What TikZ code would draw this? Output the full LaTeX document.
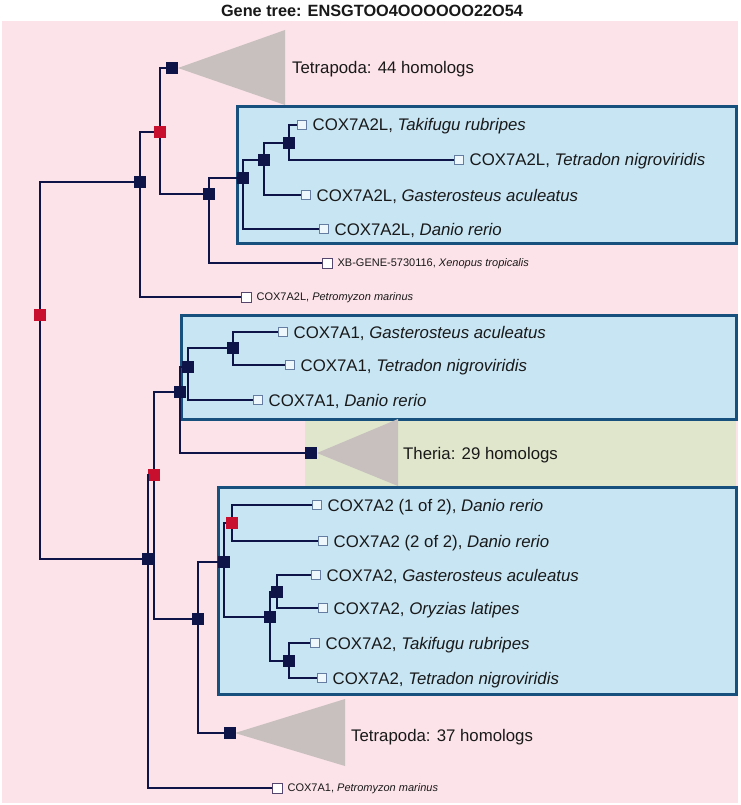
\documentclass[tikz,border=0pt]{standalone}
\usepackage{fontspec}
\setmainfont{Liberation Sans}
\definecolor{pinkbg}{RGB}{252,227,233}
\definecolor{bluebox}{RGB}{200,229,244}
\definecolor{boxedge}{RGB}{24,80,125}
\definecolor{greenbg}{RGB}{224,230,204}
\definecolor{trigray}{RGB}{199,192,190}
\definecolor{navy}{RGB}{14,20,72}
\definecolor{redn}{RGB}{200,16,46}
\definecolor{leafedge}{RGB}{100,125,160}
\definecolor{sleafedge}{RGB}{85,70,110}
\definecolor{txt}{RGB}{25,25,25}
\tikzset{
  edge/.style={draw=navy,line width=2.6pt},
  sedge/.style={draw=navy,line width=2.2pt},
  dn/.style={rectangle,fill=navy,minimum size=11.5pt,inner sep=0pt},
  rn/.style={rectangle,fill=redn,minimum size=11.5pt,inner sep=0pt},
  leaf/.style={rectangle,draw=leafedge,fill=white!70!bluebox,line width=0.9pt,minimum size=9pt,inner sep=0pt},
  sleaf/.style={rectangle,draw=sleafedge,fill=white,line width=0.9pt,minimum size=10pt,inner sep=0pt},
  lab/.style={anchor=west,inner sep=0pt,text=txt,font=\fontsize{16.8}{18}\selectfont,text height=12pt,text depth=0pt},
  slab/.style={anchor=west,inner sep=0pt,text=txt,font=\fontsize{11}{13}\selectfont,text height=7.9pt,text depth=0pt},
  bbox/.style={fill=bluebox,draw=boxedge,line width=3pt},
  tri/.style={fill=trigray},
}
\begin{document}
\begin{tikzpicture}[x=1pt,y=-1pt]
\useasboundingbox[fill=white] (0,0) rectangle (740,805);
\node[font=\bfseries\fontsize{16.3}{18}\selectfont,text=txt,inner sep=0pt] (title) at (372,11) {Gene tree: ENSGTOO4OOOOOO22O54};
\fill[pinkbg] (2,21) rectangle (738,803);
\fill[greenbg] (305,419) rectangle (736,487);
\draw[bbox] (237,107) rectangle (736,243);
\draw[bbox] (181,315) rectangle (736,419);
\draw[bbox] (218,487) rectangle (736,694);
% triangles
\fill[tri] (178,68) -- (285,30) -- (285,105) -- cycle;
\fill[tri] (317,453) -- (398,419) -- (398,486) -- cycle;
\fill[tri] (235,733) -- (345,699) -- (345,766) -- cycle;
% internal nodes
\node[rn] (root) at (40,315) {};
\node[dn] (A) at (140,182) {};
\node[rn] (B) at (160,132) {};
\node[dn] (T44) at (172,68) {};
\node[dn] (C) at (209,194) {};
\node[dn] (D) at (243,178) {};
\node[dn] (E) at (264,160) {};
\node[dn] (F) at (289,143) {};
\node[dn] (G) at (148,559) {};
\node[rn] (H) at (154,475) {};
\node[dn] (I) at (180,392) {};
\node[dn] (K) at (188,367) {};
\node[dn] (L) at (233,348) {};
\node[dn] (Th) at (311,453) {};
\node[dn] (J) at (198,619) {};
\node[dn] (M) at (224,562) {};
\node[rn] (N) at (232,523) {};
\node[dn] (O) at (270,617) {};
\node[dn] (P) at (277,592) {};
\node[dn] (Q) at (289,661) {};
\node[dn] (T37) at (230,733) {};
% leaves
\node[leaf] (l1) at (302,125) {};
\node[leaf] (l2) at (459,160) {};
\node[leaf] (l3) at (306,195) {};
\node[leaf] (l4) at (324,229) {};
\node[sleaf] (l5) at (327,263) {};
\node[sleaf] (l6) at (246,297) {};
\node[leaf] (l7) at (283,332) {};
\node[leaf] (l8) at (290,365) {};
\node[leaf] (l9) at (258,400) {};
\node[leaf] (l10) at (317,505) {};
\node[leaf] (l11) at (323,541) {};
\node[leaf] (l12) at (316,575) {};
\node[leaf] (l13) at (323,608) {};
\node[leaf] (l14) at (315,643) {};
\node[leaf] (l15) at (322,678) {};
\node[sleaf] (l16) at (277,788) {};
% edges
\path[edge] (root) |- (A);
\path[edge] (root) |- (G);
\path[edge] (A) |- (B);
\path[sedge] (A) |- (l6);
\path[edge] (B) |- (T44);
\path[edge] (B) |- (C);
\path[edge] (C) |- (D);
\path[sedge] (C) |- (l5);
\path[edge] (D) |- (E);
\path[edge] (D) |- (l4);
\path[edge] (E) |- (F);
\path[edge] (E) |- (l3);
\path[edge] (F) |- (l1);
\path[edge] (F) |- (l2);
\path[edge] (G) |- (H);
\path[sedge] (G) |- (l16);
\path[edge] (H) |- (I);
\path[edge] (H) |- (J);
\path[edge] (I) |- (K);
\path[edge] (I) |- (Th);
\path[edge] (K) |- (L);
\path[edge] (K) |- (l9);
\path[edge] (L) |- (l7);
\path[edge] (L) |- (l8);
\path[edge] (J) |- (M);
\path[edge] (J) |- (T37);
\path[edge] (M) |- (N);
\path[edge] (M) |- (O);
\path[edge] (N) |- (l10);
\path[edge] (N) |- (l11);
\path[edge] (O) |- (P);
\path[edge] (O) |- (Q);
\path[edge] (P) |- (l12);
\path[edge] (P) |- (l13);
\path[edge] (Q) |- (l14);
\path[edge] (Q) |- (l15);
% labels
\node[lab] (tt44) at (292,68) {Tetrapoda: 44 homologs};
\node[lab] (tth) at (403,453) {Theria: 29 homologs};
\node[lab] (tt37) at (351,735) {Tetrapoda: 37 homologs};
\node[lab] (t1) at ([xshift=5.5pt]l1.east) {COX7A2L, \textit{Takifugu rubripes}};
\node[lab] (t2) at ([xshift=5.5pt]l2.east) {COX7A2L, \textit{Tetradon nigroviridis}};
\node[lab] (t3) at ([xshift=5.5pt]l3.east) {COX7A2L, \textit{Gasterosteus aculeatus}};
\node[lab] (t4) at ([xshift=5.5pt]l4.east) {COX7A2L, \textit{Danio rerio}};
\node[slab] (t5) at ([xshift=5pt]l5.east) {XB-GENE-5730116, \textit{Xenopus tropicalis}};
\node[slab] (t6) at ([xshift=5pt]l6.east) {COX7A2L, \textit{Petromyzon marinus}};
\node[lab] (t7) at ([xshift=5.5pt]l7.east) {COX7A1, \textit{Gasterosteus aculeatus}};
\node[lab] (t8) at ([xshift=5.5pt]l8.east) {COX7A1, \textit{Tetradon nigroviridis}};
\node[lab] (t9) at ([xshift=5.5pt]l9.east) {COX7A1, \textit{Danio rerio}};
\node[lab] (t10) at ([xshift=5.5pt]l10.east) {COX7A2 (1 of 2), \textit{Danio rerio}};
\node[lab] (t11) at ([xshift=5.5pt]l11.east) {COX7A2 (2 of 2), \textit{Danio rerio}};
\node[lab] (t12) at ([xshift=5.5pt]l12.east) {COX7A2, \textit{Gasterosteus aculeatus}};
\node[lab] (t13) at ([xshift=5.5pt]l13.east) {COX7A2, \textit{Oryzias latipes}};
\node[lab] (t14) at ([xshift=5.5pt]l14.east) {COX7A2, \textit{Takifugu rubripes}};
\node[lab] (t15) at ([xshift=5.5pt]l15.east) {COX7A2, \textit{Tetradon nigroviridis}};
\node[slab] (t16) at ([xshift=5pt]l16.east) {COX7A1, \textit{Petromyzon marinus}};
\end{tikzpicture}
\end{document}
